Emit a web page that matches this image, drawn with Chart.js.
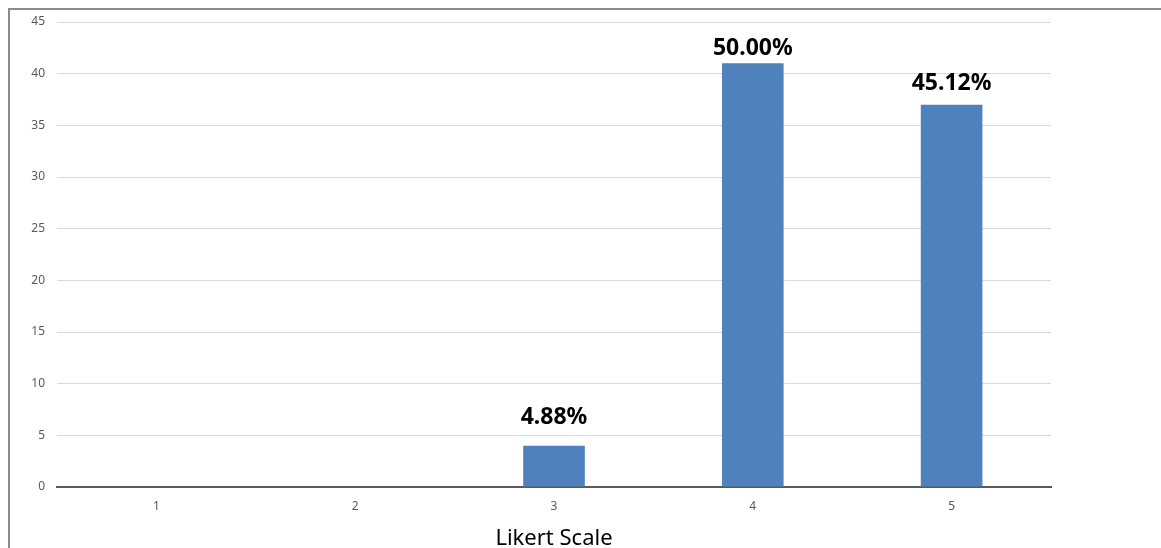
<!DOCTYPE html>
<html>
<head>
<meta charset="utf-8">
<script src="https://cdn.jsdelivr.net/npm/chart.js@4/dist/chart.umd.min.js"></script>
<style>
  html, body { margin: 0; padding: 0; background: #fff; }
  #wrap { position: relative; width: 1161px; height: 548px; overflow: hidden; }
  #frame { position: absolute; left: 8px; top: 8px; width: 1161px; height: 548px;
           border-left: 2px solid #8a8a8a; border-top: 2px solid #8a8a8a; box-sizing: border-box; }
  canvas { position: absolute; left: 0; top: 0; }
</style>
</head>
<body>
<div id="wrap">
  <div id="frame"></div>
  <canvas id="c" width="1161" height="548"></canvas>
</div>
<script>
// Likert responses (counts) and their share of the 82 respondents
const categories = ['1', '2', '3', '4', '5'];
const counts = [0, 0, 4, 41, 37];
const shareLabels = ['', '', '4.88%', '50.00%', '45.12%'];
const yTicks = [0, 5, 10, 15, 20, 25, 30, 35, 40, 45];

// gap in px between each bar top and the baseline of its share label
const labelGap = [0, 0, 22, 8, 15];

const valueLabels = {
  id: 'valueLabels',
  afterDatasetsDraw(chart) {
    const { ctx } = chart;
    const meta = chart.getDatasetMeta(0);
    ctx.save();
    ctx.font = 'bold 23px "Noto Sans", sans-serif';
    ctx.fillStyle = '#000';
    ctx.textAlign = 'center';
    ctx.textBaseline = 'alphabetic';
    meta.data.forEach((bar, i) => {
      if (!shareLabels[i]) return;
      ctx.fillText(shareLabels[i], bar.x, bar.y - labelGap[i]);
    });
    ctx.restore();
  }
};

new Chart(document.getElementById('c'), {
  type: 'bar',
  data: {
    labels: categories,
    datasets: [{
      data: counts,
      backgroundColor: '#4f81bd',
      borderWidth: 0,
      categoryPercentage: 1,
      barPercentage: 0.31
    }]
  },
  options: {
    responsive: false,
    animation: false,
    events: [],
    layout: { padding: { left: 0, right: 110, top: 22, bottom: 0 } },
    plugins: { legend: { display: false }, tooltip: { enabled: false } },
    scales: {
      x: {
        grid: { display: false, drawTicks: false },
        border: { display: true, color: '#595959', width: 2 },
        ticks: { color: '#595959', font: { family: '"Noto Sans", sans-serif', size: 12 }, padding: 12 },
        title: { display: true, text: 'Likert Scale', color: '#000',
                 font: { family: '"Noto Sans", sans-serif', size: 22 }, padding: { top: 4, bottom: -4 } },
        afterFit(s) { s.height = 61; }
      },
      y: {
        min: 0, max: 45,
        afterBuildTicks(s) { s.ticks = yTicks.map(v => ({ value: v })); },
        grid: { color: '#d9d9d9', lineWidth: 1, drawTicks: false },
        border: { display: false },
        ticks: { color: '#595959', font: { family: '"Noto Sans", sans-serif', size: 12 }, padding: 12 },
        afterFit(s) { s.width = 57; }
      }
    }
  },
  plugins: [valueLabels]
});
</script>
</body>
</html>
